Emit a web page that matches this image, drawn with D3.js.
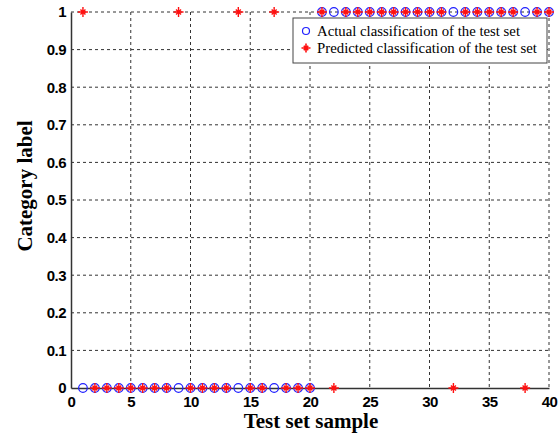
<!DOCTYPE html>
<html>
<head>
<meta charset="utf-8">
<script src="https://cdn.jsdelivr.net/npm/d3@7"></script>
<style>
  body { margin: 0; background: #fff; }
  svg { display: block; }
</style>
</head>
<body>
<div id="viz"></div>
<script>
// test set samples 1..40
var samples = d3.range(1, 41);
var actual = [0,0,0,0,0,0,0,0,0,0,0,0,0,0,0,0,0,0,0,0,
              1,1,1,1,1,1,1,1,1,1,1,1,1,1,1,1,1,1,1,1];
var predicted = [1,0,0,0,0,0,0,0,1,0,0,0,0,1,0,0,1,0,0,0,
                 1,0,1,1,1,1,1,1,1,1,1,0,1,1,1,1,1,0,1,1];
var xTicks = [0, 5, 10, 15, 20, 25, 30, 35, 40];
var yTicks = [0, 0.1, 0.2, 0.3, 0.4, 0.5, 0.6, 0.7, 0.8, 0.9, 1];
var legendLabels = ["Actual classification of the test set", "Predicted classification of the test set"];

var W = 559, H = 433;
var margin = {top: 12, right: 10, bottom: 45, left: 71},
    width = W - margin.left - margin.right,
    height = H - margin.top - margin.bottom;

var svg = d3.select("#viz").append("svg")
    .attr("width", W)
    .attr("height", H);

var g = svg.append("g")
    .attr("transform", "translate(" + margin.left + "," + margin.top + ")");

var x = d3.scaleLinear().domain([0, 40]).range([0, width]);
var y = d3.scaleLinear().domain([0, 1]).range([height, 0]);

// grid
g.selectAll(".vgrid").data(xTicks.filter(function(d) { return d > 0; }))
  .enter().append("line")
  .attr("x1", function(d) { return x(d); }).attr("x2", function(d) { return x(d); })
  .attr("y1", 0).attr("y2", height)
  .attr("stroke", "#333").attr("stroke-width", 1).attr("stroke-dasharray", "3,3");

g.selectAll(".hgrid").data(yTicks.filter(function(d) { return d > 0; }))
  .enter().append("line")
  .attr("y1", function(d) { return y(d); }).attr("y2", function(d) { return y(d); })
  .attr("x1", 0).attr("x2", width)
  .attr("stroke", "#333").attr("stroke-width", 1).attr("stroke-dasharray", "3,3");

// axes
var xAxis = g.append("g")
  .attr("transform", "translate(0," + height + ")")
  .call(d3.axisBottom(x).tickValues(xTicks).tickSize(0).tickPadding(8).tickFormat(d3.format("d")));
var yAxis = g.append("g")
  .call(d3.axisLeft(y).tickValues(yTicks).tickSize(0).tickPadding(5).tickFormat(function(d) { return d === 0 || d === 1 ? d : d3.format(".1f")(d); }));

[xAxis, yAxis].forEach(function(a) {
  a.select(".domain").attr("stroke", "#333").attr("stroke-width", 1.5);
  a.selectAll("text")
    .attr("fill", "#000")
    .attr("style", "font-family: 'Liberation Sans', Arial, sans-serif; font-size: 15px; font-weight: bold; letter-spacing: -0.5px;");
});

// markers
var actualPts = samples.map(function(s, i) { return [s, actual[i]]; });
var predPts = samples.map(function(s, i) { return [s, predicted[i]]; });

g.selectAll(".act").data(actualPts).enter().append("circle")
  .attr("cx", function(d) { return x(d[0]); })
  .attr("cy", function(d) { return y(d[1]); })
  .attr("r", 4.3)
  .attr("fill", "none")
  .attr("stroke", "#2020ff")
  .attr("stroke-width", 1.2);

function starPath(r) {
  var d = r * 0.5;
  return "M" + (-r) + ",0L" + r + ",0M0," + (-r) + "L0," + r +
         "M" + (-d) + "," + (-d) + "L" + d + "," + d +
         "M" + (-d) + "," + d + "L" + d + "," + (-d);
}

g.selectAll(".pred").data(predPts).enter().append("path")
  .attr("transform", function(d) { return "translate(" + x(d[0]) + "," + y(d[1]) + ")"; })
  .attr("d", starPath(5))
  .attr("fill", "none")
  .attr("stroke", "#ff1010")
  .attr("stroke-width", 1.4);

// axis titles
svg.append("text")
  .attr("text-anchor", "middle")
  .attr("x", 311)
  .attr("y", 428)
  .attr("style", "font-family: 'Liberation Serif', 'Times New Roman', serif; font-size: 21px; font-weight: bold;")
  .text("Test set sample");

svg.append("text")
  .attr("text-anchor", "middle")
  .attr("transform", "translate(32,186) rotate(-90)")
  .attr("style", "font-family: 'Liberation Serif', 'Times New Roman', serif; font-size: 21px; font-weight: bold;")
  .text("Category label");

// legend
var lg = svg.append("g").attr("transform", "translate(293,18)");
lg.append("rect")
  .attr("width", 254).attr("height", 45)
  .attr("fill", "#fff").attr("stroke", "#444").attr("stroke-width", 1);

lg.append("circle").attr("cx", 13).attr("cy", 13).attr("r", 3.5)
  .attr("fill", "none").attr("stroke", "#2020ff").attr("stroke-width", 1.2);
lg.append("path").attr("transform", "translate(13,30)").attr("d", starPath(4.5))
  .attr("fill", "none").attr("stroke", "#ff1010").attr("stroke-width", 1.6);

lg.selectAll(".lt").data(legendLabels).enter().append("text")
  .attr("x", 24)
  .attr("y", function(d, i) { return 18 + i * 17; })
  .attr("style", "font-family: 'Liberation Serif', 'Times New Roman', serif; font-size: 15px;")
  .attr("textLength", function(d, i) { return i === 0 ? 203 : 220; })
  .attr("lengthAdjust", "spacingAndGlyphs")
  .text(function(d) { return d; });
</script>
</body>
</html>
